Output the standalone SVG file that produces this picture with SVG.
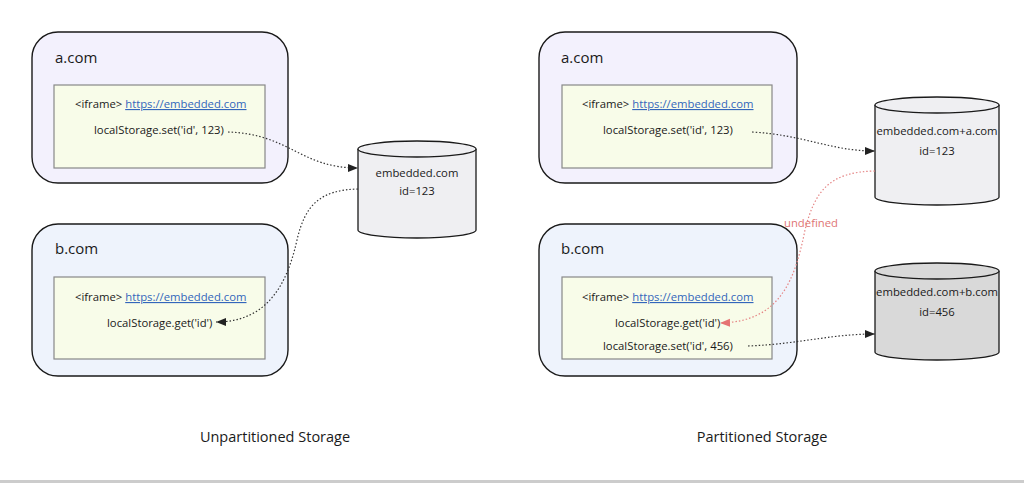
<svg xmlns="http://www.w3.org/2000/svg" width="1024" height="483" viewBox="0 0 1024 483">
<defs>
<style>
text{font-family:"Open Sans","Noto Sans","Liberation Sans",sans-serif;fill:#1a1a1a}
.site{font-size:15px}
.code{font-size:11.3px}
.link{fill:#3366bb;text-decoration:underline}
.title{font-size:14.5px}
.boxA{fill:#f3f1fd;stroke:#1a1a1a;stroke-width:1.4}
.boxB{fill:#eef3fc;stroke:#1a1a1a;stroke-width:1.4}
.frame{fill:#f8fce9;stroke:#888;stroke-width:1.2}
.cyl{fill:#efeff2;stroke:#1a1a1a;stroke-width:1.3}
.cyl2{fill:#d9d9d9;stroke:#1a1a1a;stroke-width:1.3}
.conn{fill:none;stroke:#333;stroke-width:1.2;stroke-dasharray:1.5 2}
.red{fill:none;stroke:#e58585;stroke-width:1.2;stroke-dasharray:1.5 2}
</style>
<marker id="ah" viewBox="0 0 10 10" refX="10" refY="5" markerWidth="10" markerHeight="10" markerUnits="userSpaceOnUse" orient="auto">
<path d="M0,1 L10,5 L0,9 z" fill="#222"/>
</marker>
<marker id="ahr" viewBox="0 0 10 10" refX="10" refY="5" markerWidth="10" markerHeight="10" markerUnits="userSpaceOnUse" orient="auto">
<path d="M0,1 L10,5 L0,9 z" fill="#e57373"/>
</marker>
</defs>
<rect width="1024" height="483" fill="#fff"/>
<rect x="0" y="480" width="1024" height="3" fill="#cccccc"/>

<g id="left-a">
<rect class="boxA" x="32" y="32" width="256" height="151" rx="26"/>
<text class="site" x="55" y="63">a.com</text>
<rect class="frame" x="54" y="85" width="211" height="83"/>
<text class="code" x="75" y="108">&lt;iframe&gt; <tspan class="link">https://embedded.com</tspan></text>
<text class="code" x="94" y="134">localStorage.set('id', 123)</text>
</g>

<g id="left-b">
<rect class="boxB" x="32" y="224" width="256" height="152" rx="26"/>
<text class="site" x="55" y="254">b.com</text>
<rect class="frame" x="54" y="277" width="211" height="82"/>
<text class="code" x="75" y="301">&lt;iframe&gt; <tspan class="link">https://embedded.com</tspan></text>
<text class="code" x="107" y="327">localStorage.get('id')</text>
</g>

<g id="left-store">
<path class="cyl" d="M358,149 L358,230 A59,8 0 0 0 476,230 L476,149 A59,8 0 0 0 358,149 Z"/>
<path class="cyl" d="M358,149 A59,8 0 0 0 476,149"/>
<text class="code" x="417" y="177" text-anchor="middle">embedded.com</text>
<text class="code" x="417" y="195" text-anchor="middle">id=123</text>
</g>

<g id="right-a">
<rect class="boxA" x="539" y="32" width="258" height="151" rx="26"/>
<text class="site" x="561" y="63">a.com</text>
<rect class="frame" x="562" y="85" width="210" height="83"/>
<text class="code" x="582" y="108">&lt;iframe&gt; <tspan class="link">https://embedded.com</tspan></text>
<text class="code" x="603" y="134">localStorage.set('id', 123)</text>
</g>

<g id="right-b">
<rect class="boxB" x="539" y="224" width="258" height="152" rx="26"/>
<text class="site" x="561" y="254">b.com</text>
<rect class="frame" x="562" y="277" width="210" height="82"/>
<text class="code" x="582" y="301">&lt;iframe&gt; <tspan class="link">https://embedded.com</tspan></text>
<text class="code" x="615" y="327">localStorage.get('id')</text>
<text class="code" x="603" y="350">localStorage.set('id', 456)</text>
</g>

<g id="right-store-a">
<path class="cyl" d="M875,105 L875,197 A62,8 0 0 0 999,197 L999,105 A62,8 0 0 0 875,105 Z"/>
<path class="cyl" d="M875,105 A62,8 0 0 0 999,105"/>
<text class="code" x="937" y="135" text-anchor="middle">embedded.com+a.com</text>
<text class="code" x="937" y="155" text-anchor="middle">id=123</text>
</g>

<g id="right-store-b">
<path class="cyl2" d="M875,271 L875,352 A62,8 0 0 0 999,352 L999,271 A62,8 0 0 0 875,271 Z"/>
<path class="cyl2" d="M875,271 A62,8 0 0 0 999,271"/>
<text class="code" x="937" y="296" text-anchor="middle">embedded.com+b.com</text>
<text class="code" x="937" y="316" text-anchor="middle">id=456</text>
</g>

<g id="connectors">
<path class="conn" d="M228,132 C290,134 300,168 358,168" marker-end="url(#ah)"/>
<path class="conn" d="M358,189 C320,190 305,205 297,240 C288,280 270,322 216,322" marker-end="url(#ah)"/>
<path class="conn" d="M752,132 C805,135 830,151 875,151" marker-end="url(#ah)"/>
<path class="red" d="M875,171 C830,172 815,190 805,230 C795,280 780,322 720,323" marker-end="url(#ahr)"/>
<path class="conn" d="M748,346 C800,344 830,334 875,334" marker-end="url(#ah)"/>
<text class="code" x="811" y="227" text-anchor="middle" style="fill:#e07575">undefined</text>
</g>

<g id="titles">
<text class="title" x="275" y="442" text-anchor="middle">Unpartitioned Storage</text>
<text class="title" x="762" y="442" text-anchor="middle">Partitioned Storage</text>
</g>
</svg>
